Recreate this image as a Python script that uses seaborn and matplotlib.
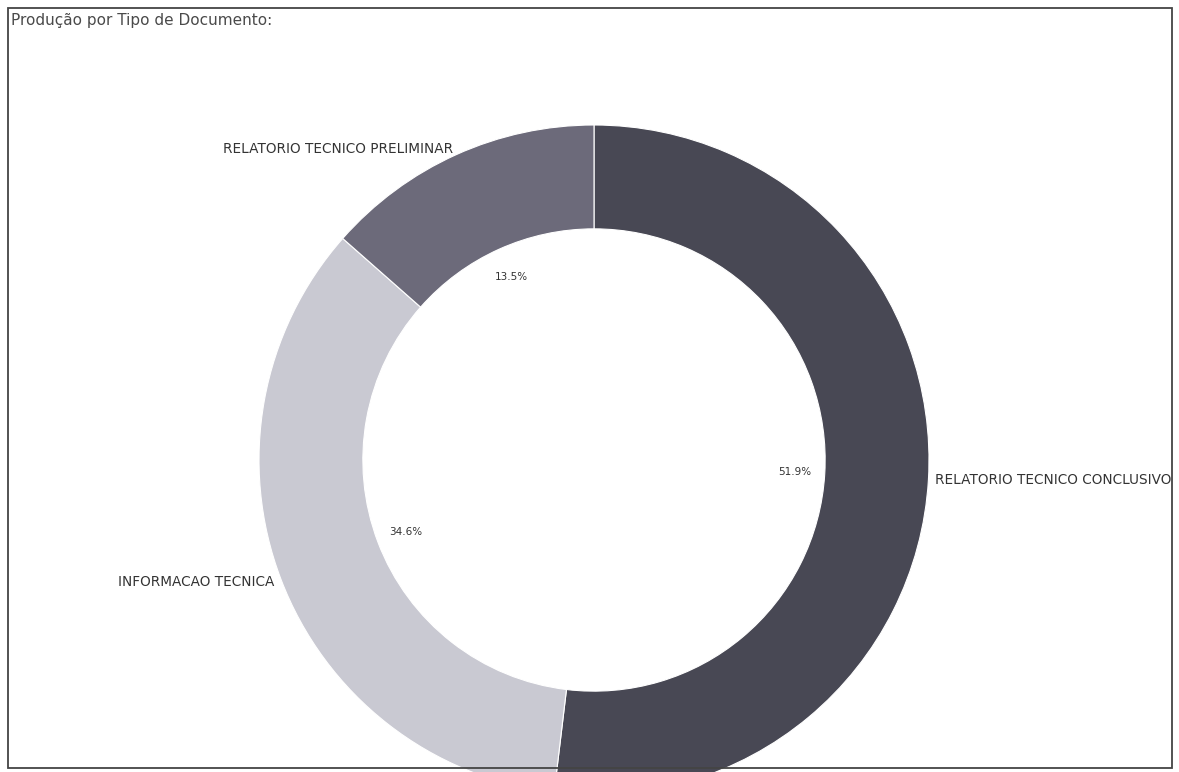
import matplotlib
matplotlib.use("Agg")
import numpy as np
import matplotlib.pyplot as plt
import seaborn as sns
from matplotlib.patches import Rectangle

tipos = ["RELATORIO TECNICO CONCLUSIVO", "INFORMACAO TECNICA", "RELATORIO TECNICO PRELIMINAR"]
percentuais = [51.9, 34.6, 13.5]
cores = ["#484854", "#c9c9d2", "#6c6a7a"]

sns.set_theme(style="white")
plt.rcParams["font.family"] = ["DejaVu Sans"]

W, H = 1179, 772
fig = plt.figure(figsize=(W / 100, H / 100), dpi=100)
# eixo em coordenadas de pixel, recortado pela moldura em baixo
ax = fig.add_axes([0, 4 / H, 1, (H - 4) / H])

cx, cy, r = 594, H - 460, 335
wedges, textos, pcts = ax.pie(
    percentuais,
    labels=tipos,
    colors=cores,
    startangle=90,
    counterclock=False,
    center=(cx, cy),
    radius=r,
    labeldistance=1.02,
    pctdistance=0.6,
    autopct="%1.1f%%",
    wedgeprops=dict(width=r * 0.31, edgecolor="white", linewidth=0.8),
    textprops=dict(fontsize=9.8, color="#333333"),
    frame=True,
)
# alinhamento horizontal pelo lado do ângulo médio (center deslocado)
for w, t in zip(wedges, textos):
    ang = np.deg2rad((w.theta1 + w.theta2) / 2)
    t.set_ha("left" if np.cos(ang) > 0 else "right")
for p in pcts:
    p.set_fontsize(7.5)
    p.set_color("#333333")

ax.set_xlim(0, W)
ax.set_ylim(4, H)
ax.set_aspect("equal")
ax.axis("off")

# moldura e título
fig.patches.append(Rectangle((8 / W, 4 / H), 1164 / W, (H - 12) / H,
                             transform=fig.transFigure, fill=False,
                             edgecolor="#444444", linewidth=1.3))
fig.text(11 / W, 1 - 21 / H, "Produção por Tipo de Documento:", fontsize=11,
         color="#4a4a4a", ha="left", va="center")

fig.savefig("out.png", dpi=100)
